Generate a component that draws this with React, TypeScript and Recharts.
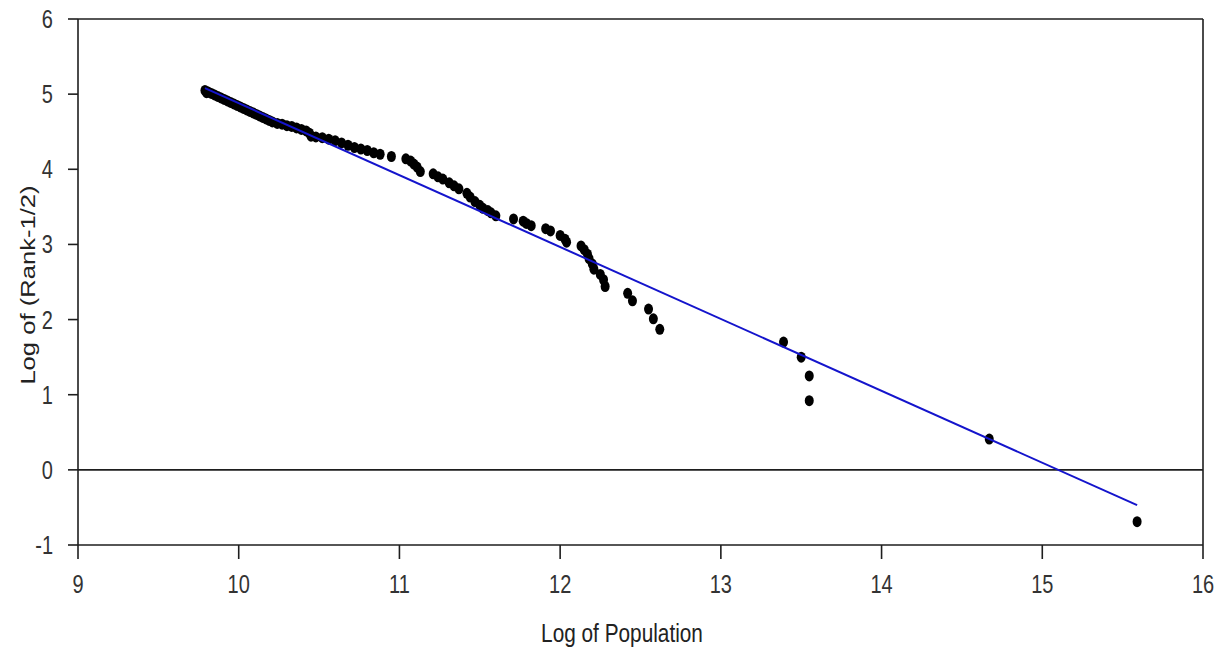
import { ReferenceLine, Scatter, ScatterChart, XAxis, YAxis } from "recharts";

// log of population (x) and log of (rank - 1/2) (y)
const logPop = [
  9.79, 9.8, 9.81, 9.83, 9.85, 9.87, 9.89, 9.91, 9.93, 9.95, 9.97, 9.99, 10.01, 10.03, 10.05, 10.07,
  10.09, 10.11, 10.13, 10.15, 10.17, 10.19, 10.21, 10.24, 10.27, 10.3, 10.33, 10.36, 10.39, 10.42,
  10.44, 10.45, 10.48, 10.52, 10.56, 10.6, 10.64, 10.68, 10.72, 10.76, 10.8, 10.84, 10.88, 10.95,
  11.04, 11.07, 11.09, 11.11, 11.13, 11.21, 11.24, 11.27, 11.31, 11.34, 11.37, 11.42, 11.44, 11.47,
  11.5, 11.52, 11.55, 11.57, 11.6, 11.71, 11.77, 11.79, 11.82, 11.91, 11.94, 12.0, 12.03, 12.04,
  12.13, 12.15, 12.17, 12.18, 12.2, 12.21, 12.25, 12.27, 12.28, 12.42, 12.45, 12.55, 12.58, 12.62,
  13.39, 13.5, 13.55, 13.55, 14.67, 15.59,
];
const logRank = [
  5.05, 5.02, 5.03, 5.01, 4.99, 4.97, 4.95, 4.93, 4.91, 4.89, 4.87, 4.85, 4.83, 4.81, 4.79, 4.77,
  4.75, 4.73, 4.71, 4.69, 4.67, 4.65, 4.63, 4.61, 4.6, 4.58, 4.57, 4.55, 4.53, 4.51,
  4.48, 4.44, 4.43, 4.42, 4.4, 4.38, 4.35, 4.32, 4.29, 4.27, 4.25, 4.22, 4.2, 4.17,
  4.14, 4.11, 4.07, 4.03, 3.97, 3.94, 3.9, 3.87, 3.82, 3.78, 3.74, 3.68, 3.63, 3.57,
  3.52, 3.48, 3.45, 3.42, 3.38, 3.34, 3.31, 3.28, 3.25, 3.21, 3.18, 3.12, 3.07, 3.03,
  2.98, 2.93, 2.87, 2.81, 2.74, 2.67, 2.6, 2.53, 2.44, 2.35, 2.25, 2.14, 2.01, 1.87,
  1.7, 1.5, 1.25, 0.92, 0.41, -0.69,
];

// fitted line end points
const fitX = [9.79, 15.59];
const fitY = [5.08, -0.47];

const xTicks = [9, 10, 11, 12, 13, 14, 15, 16];
const yTicks = [-1, 0, 1, 2, 3, 4, 5, 6];

const FONT = "'Liberation Sans', Arial, sans-serif";
const INK = "#1e1e1e";
const SQUEEZE = 0.8; // reference uses a narrow, tall face

const points = logPop.map((x, i) => ({ x, y: logRank[i] }));
const fit = fitX.map((x, i) => ({ x, y: fitY[i] }));

function Dot({ cx, cy }: any) {
  return <ellipse cx={cx} cy={cy} rx={4.5} ry={5.5} fill="#000" />;
}

function XTick({ x, y, payload }: any) {
  return (
    <g transform={`translate(${x},${y})`}>
      <text transform={`scale(${SQUEEZE},1)`} dy="0.71em" textAnchor="middle" fill="#333" fontSize={25} fontFamily={FONT}>
        {payload.value}
      </text>
    </g>
  );
}

function YTick({ x, y, payload }: any) {
  return (
    <g transform={`translate(${x},${y})`}>
      <text transform={`scale(${SQUEEZE},1)`} dy="0.36em" textAnchor="end" fill="#333" fontSize={25} fontFamily={FONT}>
        {payload.value}
      </text>
    </g>
  );
}

export default function App() {
  return (
    <div style={{ position: "absolute", left: 0, top: 0, background: "#fff" }}>
      <ScatterChart width={1223} height={652} margin={{ top: 19, right: 20, left: 0, bottom: 0 }}>
        <XAxis
          type="number"
          dataKey="x"
          domain={[9, 16]}
          ticks={xTicks}
          allowDataOverflow
          height={107}
          tickSize={14}
          tickMargin={16}
          axisLine={{ stroke: INK, strokeWidth: 1.6 }}
          tickLine={{ stroke: INK, strokeWidth: 1.6 }}
          tick={<XTick />}
          label={{
            content: () => (
              <g transform="translate(622,642)">
                <text transform={`scale(${SQUEEZE},1)`} textAnchor="middle" fill="#222" fontSize={26} fontFamily={FONT}>
                  Log of Population
                </text>
              </g>
            ),
          }}
        />
        <YAxis
          type="number"
          dataKey="y"
          domain={[-1, 6]}
          ticks={yTicks}
          allowDataOverflow
          width={78}
          tickSize={10}
          tickMargin={15}
          axisLine={{ stroke: INK, strokeWidth: 1.6 }}
          tickLine={{ stroke: INK, strokeWidth: 1.6 }}
          tick={<YTick />}
          label={{
            content: () => (
              <g transform="translate(35,285) rotate(-90)">
                <text transform="scale(1.22,1)" textAnchor="middle" fill="#222" fontSize={21} fontFamily={FONT}>
                  Log of (Rank-1/2)
                </text>
              </g>
            ),
          }}
        />
        <ReferenceLine y={6} stroke={INK} strokeWidth={1.6} />
        <ReferenceLine x={16} stroke={INK} strokeWidth={1.6} />
        <ReferenceLine y={0} stroke={INK} strokeWidth={1.6} />
        <Scatter data={points} fill="#000" shape={<Dot />} isAnimationActive={false} />
        <Scatter
          data={fit}
          line={{ stroke: "#1414cc", strokeWidth: 2 }}
          shape={() => <g />}
          isAnimationActive={false}
        />
      </ScatterChart>
    </div>
  );
}
